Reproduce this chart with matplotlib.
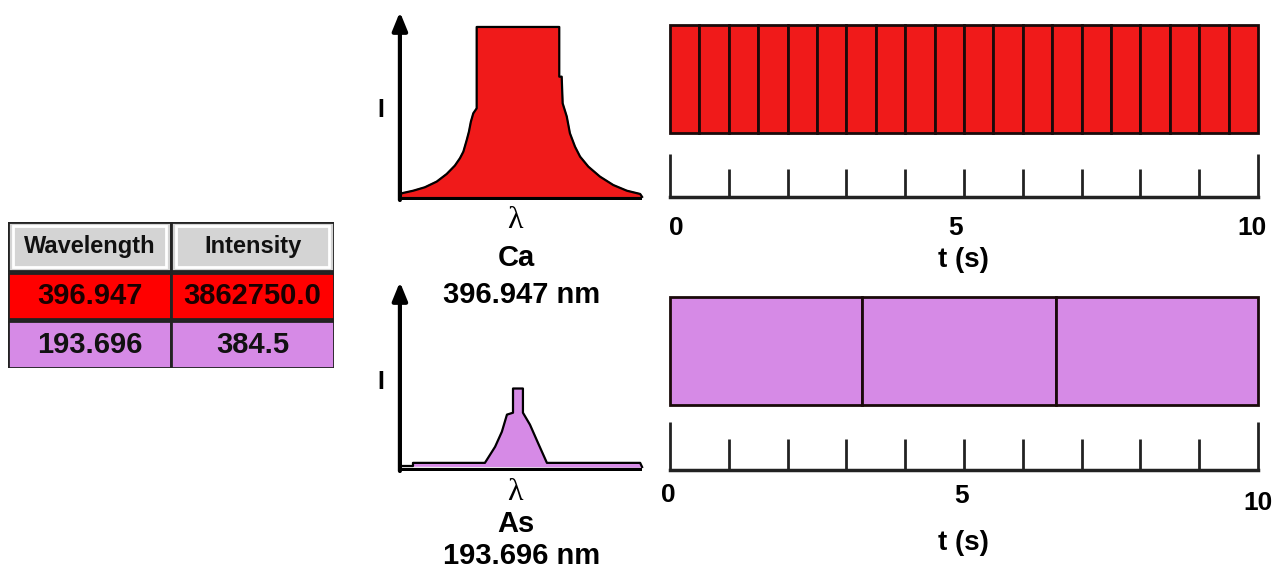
import matplotlib
matplotlib.use("Agg")
import matplotlib.pyplot as plt
from matplotlib.patches import Rectangle

plt.rcParams['font.family'] = ['Liberation Sans', 'DejaVu Sans']

# table data
col_headers = ["Wavelength", "Intensity"]
wavelengths = ["396.947", "193.696"]
intensities = ["3862750.0", "384.5"]
elements = ["Ca", "As"]

# spectrum profiles (x: position across window 0-100, y: relative intensity)
ca_x = [0, 0.7, 5.5, 10.3, 15.2, 19.3, 22.7, 24.8, 26.2, 27.6, 28.5, 29.3, 30.3, 31.7,
        31.7, 65.8, 65.8, 66.8, 67.2, 68.9, 70.2, 72.3, 74.4, 77.8, 82.6, 88.1, 93.7,
        99.2, 100]
ca_y = [1.2, 3.3, 4.8, 6.8, 10.1, 14.5, 19.4, 23.7, 27.5, 34.3, 39.1, 44.9, 49.8, 52.7,
        100, 100, 71.1, 71.1, 55.6, 47.9, 38.2, 30.4, 24.6, 18.8, 13.0, 8.1, 4.8,
        2.9, 1.2]
as_x = [0, 5.4, 5.4, 35.1, 39.3, 42.1, 44.2, 46.7, 46.7, 50.8, 50.8, 53.7, 57.0, 60.7,
        99.2, 100]
as_y = [2.3, 2.3, 4.1, 4.1, 13.4, 22.1, 32.0, 33.1, 47.1, 47.1, 33.1, 26.2, 15.7, 4.1,
        4.1, 1.7]

# time strips: segment edges in seconds
ca_edges = [0, 0.5, 1.0, 1.5, 2.0, 2.5, 3.0, 3.5, 4.0, 4.5, 5.0, 5.5, 6.0, 6.5, 7.0,
            7.5, 8.0, 8.5, 9.0, 9.5, 10.0]
as_edges = [0, 3.27, 6.56, 10.0]

ruler_ticks = [0, 1, 2, 3, 4, 5, 6, 7, 8, 9, 10]
tick_labels = ["0", "5", "10"]
tick_label_pos = [0, 5, 10]

red = "#f01a1a"
table_red = "#ff0000"
purple = "#d68ae6"
gray = "#d4d4d4"

W, H = 1279, 573
fig = plt.figure(figsize=(W / 100, H / 100), dpi=100)


def px_axes(left, top, right, bottom):
    ax = fig.add_axes([left / W, 1 - bottom / H, (right - left) / W, (bottom - top) / H])
    ax.axis("off")
    return ax


def ftext(x, y, s, **kw):
    fig.text(x / W, 1 - y / H, s, ha="center", va="center", **kw)


# ---- table ----
tab = px_axes(8, 222, 334, 368)
tab.set_xlim(0, 2)
tab.set_ylim(3, 0)
row_colors = [table_red, purple]
for c, name in enumerate(col_headers):
    tab.add_patch(Rectangle((c, 0), 1, 1, fc=gray, ec="#222222", lw=2))
    tab.add_patch(Rectangle((c + 0.03, 0.08), 0.94, 0.84, fc="none", ec="white", lw=2))
    tab.text(c + 0.5, 0.5, name, ha="center", va="center", fontsize=17, fontweight="bold",
             color="#111111")
for r in range(2):
    vals = [wavelengths[r], intensities[r]]
    for c in range(2):
        tab.add_patch(Rectangle((c, r + 1 + 0.04), 1, 0.96, fc=row_colors[r], ec="#222222", lw=2))
        tab.text(c + 0.5, r + 1.52, vals[c], ha="center", va="center", fontsize=21,
                 fontweight="bold", color="#1a0000" if r == 0 else "#111111")


# ---- spectra ----
def spectrum(top, bottom, xs, ys, color):
    ax = px_axes(397, top, 645, bottom)
    ax.set_xlim(-1.2, 101.2)
    ax.set_ylim(-0.6, 108.7)
    ax.fill(xs, ys, color=color, zorder=2)
    ax.plot(xs, ys, color="black", lw=1.6, zorder=3)
    ax.plot([0, 100], [0, 0], color="black", lw=3, zorder=4, solid_capstyle="butt")
    ax.annotate("", xy=(0, 108.7), xytext=(0, -0.6),
                arrowprops=dict(arrowstyle="-|>,head_width=0.45,head_length=1.1",
                                lw=3, color="black", shrinkA=0, shrinkB=0),
                annotation_clip=False, zorder=5)
    return ax


spectrum(12, 200, ca_x, ca_y, red)
spectrum(282, 471, as_x, as_y, purple)

ftext(381, 110, "I", fontsize=18, fontweight="bold")
ftext(381, 382, "I", fontsize=18, fontweight="bold")
ftext(515, 221, "λ", fontsize=23, family=["Liberation Serif", "DejaVu Serif"])
ftext(515, 493, "λ", fontsize=23, family=["Liberation Serif", "DejaVu Serif"])
ftext(516, 258, elements[0], fontsize=21, fontweight="bold")
ftext(522, 295, wavelengths[0] + " nm", fontsize=21, fontweight="bold")
ftext(516, 524, elements[1], fontsize=21, fontweight="bold")
ftext(522, 556, wavelengths[1] + " nm", fontsize=21, fontweight="bold")


# ---- time strips ----
def strip(top, bottom, edges, color):
    ax = px_axes(670, top, 1258, bottom)
    ax.set_xlim(0, 10)
    ax.set_ylim(0, 1)
    widths = [b - a for a, b in zip(edges[:-1], edges[1:])]
    ax.bar(edges[:-1], 1, width=widths, align="edge", color=color, edgecolor="#1a0a0a",
           lw=2, clip_on=False)


strip(25, 133, ca_edges, red)
strip(297, 405, as_edges, purple)


# ---- rulers ----
def ruler(top, bottom, label_y, label_dx, label_dy, xlabel_y):
    ax = px_axes(670, top, 1258, bottom)
    ax.set_xlim(0, 10)
    ax.set_ylim(0, 1)
    heights = [1 if t in (0, 10) else 0.65 for t in ruler_ticks]
    ax.vlines(ruler_ticks, 0, heights, color="#222222", lw=2, clip_on=False)
    ax.plot([0, 10], [0, 0], color="#222222", lw=2.5, clip_on=False)
    for pos, lab, dx, dy in zip(tick_label_pos, tick_labels, label_dx, label_dy):
        px = 670 + pos * 58.8 + dx
        ftext(px, label_y + dy, lab, fontsize=19, fontweight="bold")
    ftext(963, xlabel_y, "t (s)", fontsize=20, fontweight="bold")


ruler(154, 197, 228, [6, -8, -6], [0, 0, 0], 260)
ruler(422, 470, 495, [-2, -2, 0], [0, 1, 8], 543)

fig.savefig("out.png", dpi=100, facecolor="white")
